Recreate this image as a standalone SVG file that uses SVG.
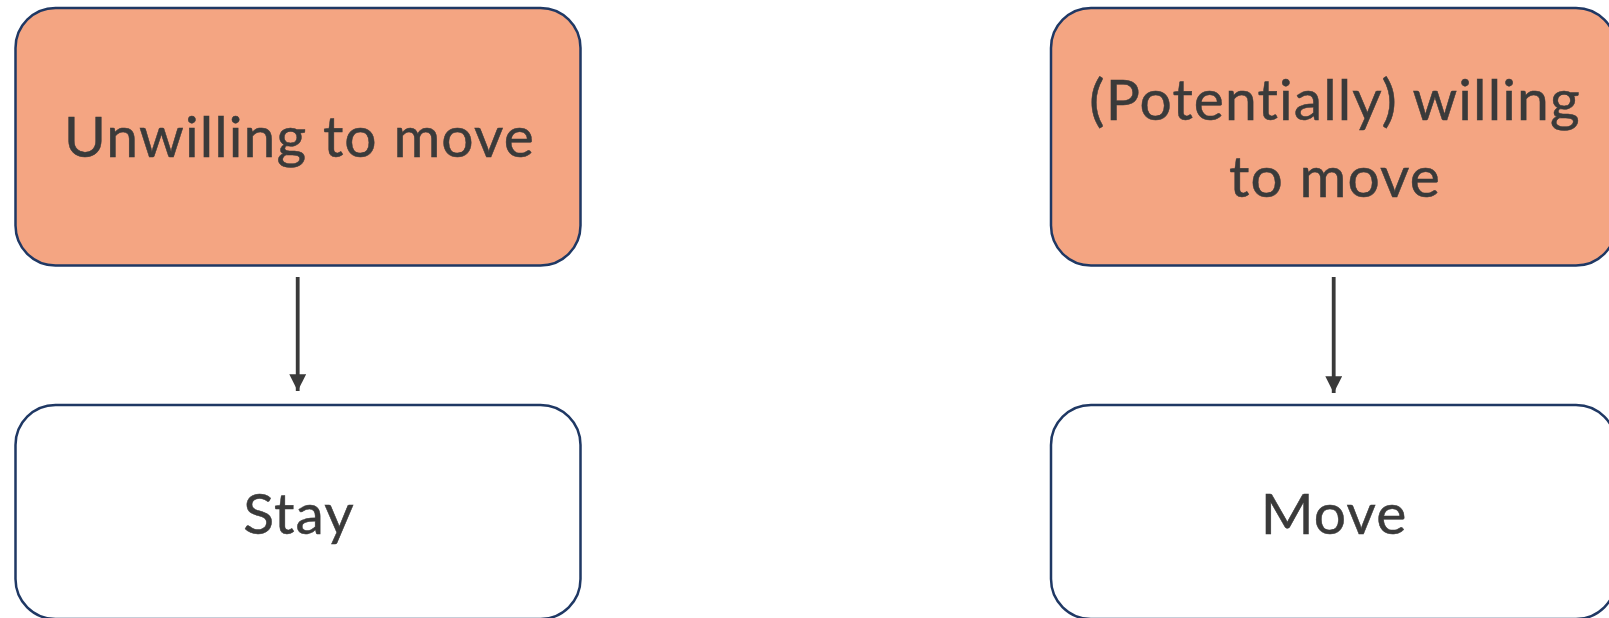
<svg xmlns="http://www.w3.org/2000/svg" width="1609" height="618" viewBox="0 0 1609 618">
<style>
.box{stroke:#1F3864;stroke-width:2.5}
.top{fill:#F4A582}
.bot{fill:#FFFFFF}
.lbl{font-family:Lato,"Liberation Sans",sans-serif;font-size:57px;letter-spacing:1.1px;font-variant-ligatures:none;fill:#3A3A3A;stroke:#3A3A3A;stroke-width:0.5;text-anchor:middle}
.conn{stroke:#3A3A3A;stroke-width:3.8;fill:none}
</style>
<defs>
<marker id="arr" viewBox="0 0 10 10" refX="10" refY="5" markerWidth="4.6" markerHeight="4.4" markerUnits="strokeWidth" orient="auto">
<path d="M0,0 L10,5 L0,10 Z" fill="#3A3A3A"/>
</marker>
</defs>
<rect width="1609" height="618" fill="#FFFFFF"/>
<g id="unwilling">
<rect class="box top" x="15.5" y="8" width="565" height="257.5" rx="40" ry="40"/>
<text class="lbl" x="299.5" y="157">Unwilling to move</text>
</g>
<g id="willing">
<rect class="box top" x="1051" y="8" width="565" height="257.5" rx="40" ry="40"/>
<text class="lbl" x="1335" y="120">(Potentially) willing</text>
<text class="lbl" x="1335" y="196.7">to move</text>
</g>
<g id="stay">
<rect class="box bot" x="15.5" y="405" width="565" height="214" rx="40" ry="40"/>
<text class="lbl" x="299" y="534">Stay</text>
</g>
<g id="move">
<rect class="box bot" x="1051" y="405" width="565" height="214" rx="40" ry="40"/>
<text class="lbl" x="1334" y="534">Move</text>
</g>
<g id="connectors">
<line class="conn" x1="297.7" y1="277" x2="297.7" y2="391" marker-end="url(#arr)"/>
<line class="conn" x1="1333.7" y1="277" x2="1333.7" y2="393" marker-end="url(#arr)"/>
</g>
</svg>
